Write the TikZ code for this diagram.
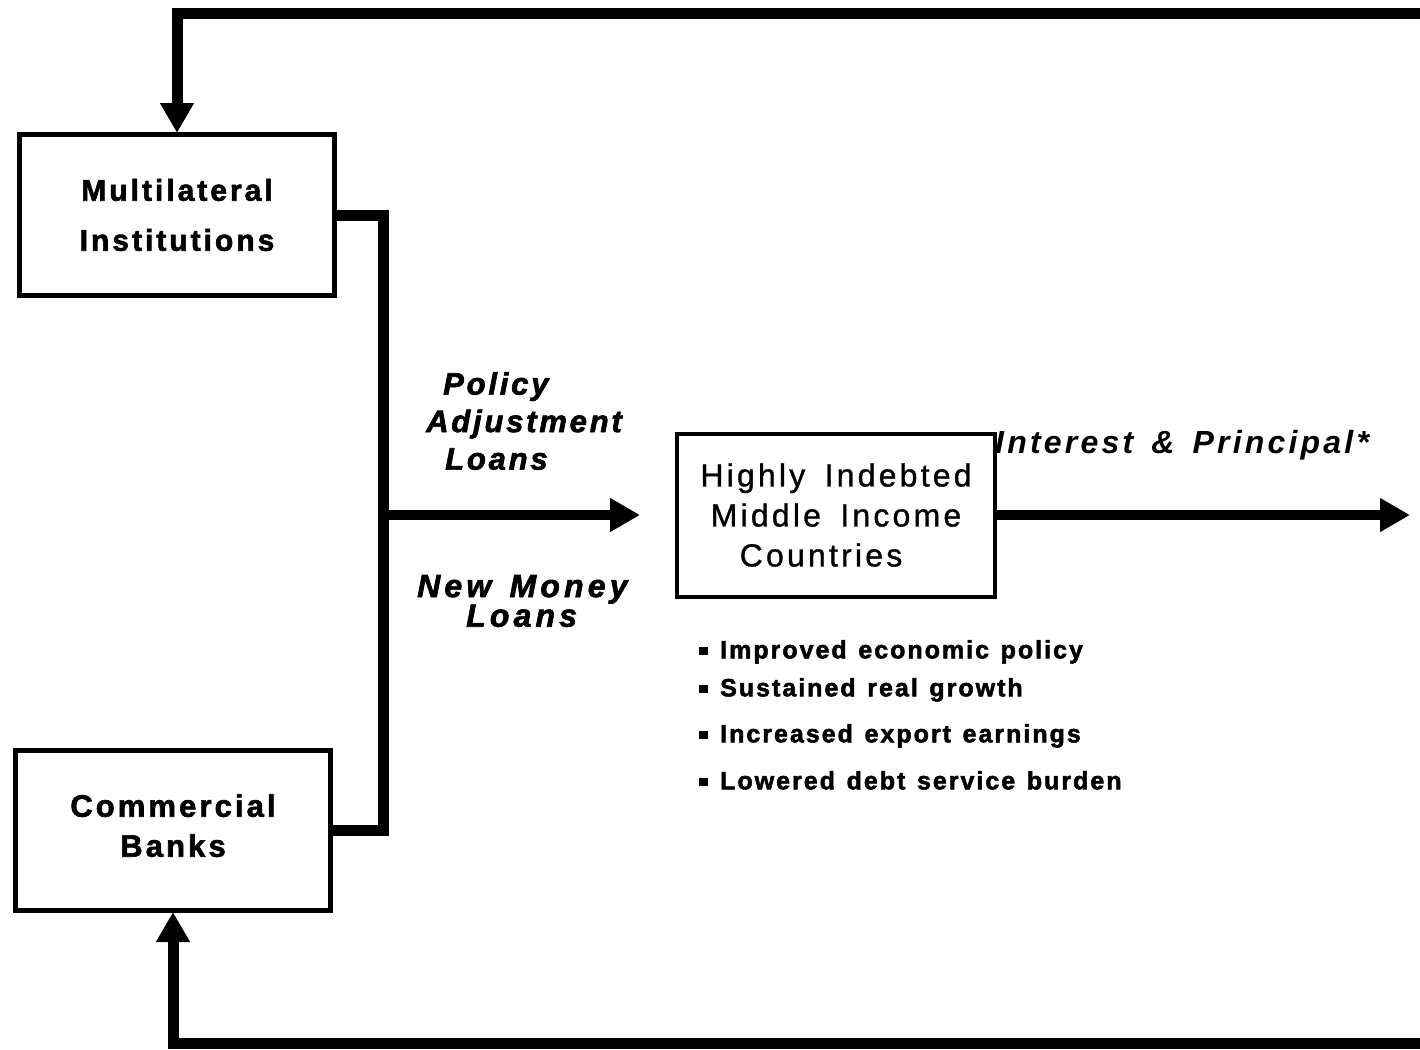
\documentclass[tikz,border=0pt]{standalone}
\usepackage{fontspec}
\setmainfont{Liberation Sans}
\newfontfamily\wideA{Liberation Sans}[LetterSpace=10, WordSpace=1.5, BoldFeatures={FakeBold=2}]
\newfontfamily\wideB{Liberation Sans}[LetterSpace=9, WordSpace=1.4, BoldFeatures={FakeBold=2}, BoldItalicFeatures={FakeBold=2}]
\newfontfamily\wideC{Liberation Sans}[LetterSpace=8, WordSpace=1.3, BoldFeatures={FakeBold=2}]
\newfontfamily\wideD{Liberation Sans}[LetterSpace=13, WordSpace=1.4, BoldItalicFeatures={FakeBold=2}]
\newfontfamily\wideM{Liberation Sans}[LetterSpace=10, WordSpace=1.6, FakeBold=1]
\usetikzlibrary{arrows.meta}

\begin{document}
\begin{tikzpicture}[x=1pt,y=-1pt,
  box/.style={draw, line width=5pt, inner sep=0pt, align=center},
  flow/.style={line width=11pt},
  tip/.style={-{Triangle[width=32pt,length=30pt]}},
  boxtext/.style={font=\fontsize{30}{50}\selectfont\wideA\bfseries},
  loantext/.style={inner sep=0pt, align=left},
  bullet/.style={inner sep=0pt, align=left, font=\fontsize{25}{46}\selectfont\wideC\bfseries}]

\useasboundingbox (0,0) rectangle (1420,1049);
\fill[white] (0,0) rectangle (1420,1049);

% the three boxes
\node[box, boxtext, minimum width=315pt, minimum height=161pt] (mi) at (177,215)
  {Multilateral\\Institutions};
\node[box, font=\fontsize{31}{40}\selectfont\wideA\bfseries,
      minimum width=315pt, minimum height=160pt] (cb) at (173,830.5)
  {Commercial\\Banks\\[-30pt]\mbox{}};
\node[box, line width=4pt, font=\fontsize{32}{40}\selectfont\wideM,
      minimum width=318pt, minimum height=163pt] (hi) at (836,515)
  {Highly Indebted\\Middle Income\\\hspace*{-30pt}Countries};

% free ends of the outer loop and the bus
\coordinate (topend) at (1430,14);
\coordinate (botend) at (1430,1043);
\coordinate (bus) at (383,515);
\coordinate (out) at (1410,515);

% outer loop back to the lenders
\draw[flow, tip, shorten >=-1pt] (topend) -| (mi.north);
\draw[flow, tip, shorten >=-1pt] (botend) -| (cb.south);

% lenders joined on one bus
\draw[flow] (mi.east) -| (bus) |- (cb.east);

% loans into the debtor countries, payments out
\draw[flow, line width=10pt, tip, shorten >=35pt] (bus) -- (bus -| hi.west);
\draw[flow, line width=10pt, tip] (hi.east) -- (hi.east -| out);

% flow labels
\node[loantext, font=\fontsize{31}{37.5}\selectfont\wideB\bfseries\itshape, anchor=west]
  (lpol) at (426,421) {\hspace*{17pt}Policy\\Adjustment\\\hspace*{19pt}Loans};
\node[loantext, font=\fontsize{32}{22}\selectfont\wideD\bfseries\itshape, anchor=west]
  (lnew) at (417,601) {New Money\\\hspace*{49pt}Loans};
\node[loantext, font=\fontsize{32}{37}\selectfont\wideA\bfseries\itshape, anchor=west]
  (lint) at (995,445) {Interest \& Principal*};

% results
\node[bullet, anchor=north west] (res) at (699,640)
  {\rule[3pt]{9pt}{8pt}\hspace{12pt}Improved economic policy\\[-8pt]
   \rule[3pt]{9pt}{8pt}\hspace{12pt}Sustained real growth\\
   \rule[3pt]{9pt}{8pt}\hspace{12pt}Increased export earnings\\[1pt]
   \rule[3pt]{9pt}{8pt}\hspace{12pt}Lowered debt service burden};
\end{tikzpicture}
\end{document}
